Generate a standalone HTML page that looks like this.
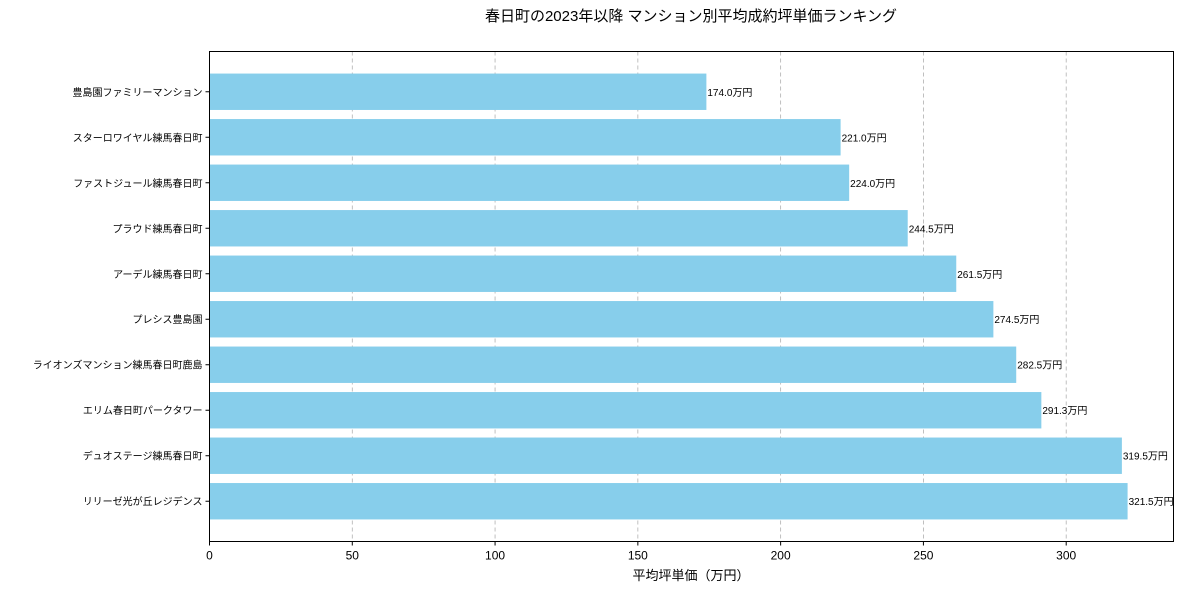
<!DOCTYPE html>
<html><head><meta charset="utf-8">
<style>
body{margin:0;background:#fff;font-family:"Liberation Sans","Noto Sans CJK JP",sans-serif;}
svg text{font-family:"Liberation Sans","Noto Sans CJK JP",sans-serif;}
</style></head>
<body>
<svg id="chart" width="1191" height="593" xmlns="http://www.w3.org/2000/svg">
<rect width="1191" height="593" fill="#fff"/>
<text x="691" y="21" font-size="15" text-anchor="middle">春日町の2023年以降 マンション別平均成約坪単価ランキング</text>
<g id="grid"></g>
<g id="bars"></g>
<rect x="209.5" y="51.5" width="964" height="490" fill="none" stroke="#000" stroke-width="1"/>
<g id="axes"></g>
<text x="691" y="580" font-size="13" text-anchor="middle">平均坪単価（万円）</text>
</svg>
<script>
const categories=["豊島園ファミリーマンション","スターロワイヤル練馬春日町","ファストジュール練馬春日町","プラウド練馬春日町","アーデル練馬春日町","プレシス豊島園","ライオンズマンション練馬春日町鹿島","エリム春日町パークタワー","デュオステージ練馬春日町","リリーゼ光が丘レジデンス"];
const values=[174.0,221.0,224.0,244.5,261.5,274.5,282.5,291.3,319.5,321.5];
const valueLabels=["174.0万円","221.0万円","224.0万円","244.5万円","261.5万円","274.5万円","282.5万円","291.3万円","319.5万円","321.5万円"];
const xTicks=[0,50,100,150,200,250,300];
const NS="http://www.w3.org/2000/svg";
const L=209.5,R=1173.5,T=51.5,B=541.5;
const xMax=Math.max(...values)*1.05;
const x=v=>L+(R-L)*v/xMax;
const n=categories.length;
const yMin=-0.885, yMax=n-1+0.885;
const y=i=>T+(B-T)*(i-yMin)/(yMax-yMin);
const bw=(B-T)/(yMax-yMin)*0.8;
function mk(tag,attrs,parent,txt){const e=document.createElementNS(NS,tag);for(const k in attrs)e.setAttribute(k,attrs[k]);if(txt!==undefined)e.textContent=txt;parent.appendChild(e);return e;}
const grid=document.getElementById('grid'),bars=document.getElementById('bars'),axes=document.getElementById('axes');
xTicks.forEach(t=>{
  if(t>0){const g=mk('line',{x1:x(t),x2:x(t),y1:T,y2:B,stroke:'#b0b0b0','stroke-dasharray':'4,3','stroke-width':0.8},grid);
  
  }
  const tk=mk('line',{x1:x(t),x2:x(t),y1:B,y2:B+4,stroke:'#000'},axes);
  
  
  const tl=mk('text',{x:x(t),y:B+18,'font-size':12,'text-anchor':'middle'},axes,String(t));
  
  
});
categories.forEach((c,i)=>{
  const cy=y(i);
  const r=mk('rect',{x:L,y:cy-bw/2,width:x(values[i])-L,height:bw,fill:'#87ceeb'},bars);
  
  
  const v=mk('text',{x:x(values[i])+1,y:cy+4,'font-size':10},bars,valueLabels[i]);
  
  
  const tk=mk('line',{x1:L-4,x2:L,y1:cy,y2:cy,stroke:'#000'},axes);
  
  
  const tl=mk('text',{x:L-7,y:cy+4,'font-size':10,'text-anchor':'end'},axes,c);
  
  
});
</script>
</body></html>
